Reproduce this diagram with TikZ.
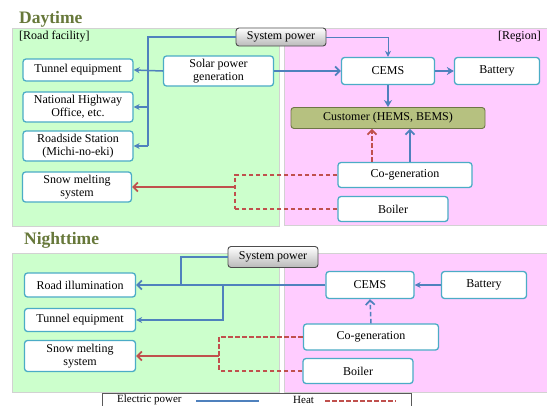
\documentclass[tikz,border=0pt]{standalone}
\usepackage{fontspec}
\setmainfont{Liberation Serif}
\usetikzlibrary{arrows.meta,shadows}
\definecolor{pgreen}{RGB}{204,255,204}
\definecolor{ppink}{RGB}{255,204,255}
\definecolor{bord}{RGB}{75,172,198}
\definecolor{eblue}{RGB}{79,129,189}
\definecolor{hred}{RGB}{192,80,77}
\definecolor{olivet}{RGB}{103,120,58}
\definecolor{custf}{RGB}{182,193,128}
\definecolor{custd}{RGB}{110,118,70}
\tikzset{
  x=1pt,y=-1pt,
  panel/.style={draw=gray!35,line width=0.6pt},
  box/.style={draw=bord,line width=1.3pt,rounded corners=3pt,fill=white,align=center,
    font=\fontsize{12}{12.5}\selectfont,inner sep=1pt},
  spbox/.style={draw=gray!60!black,line width=0.9pt,rounded corners=3pt,top color=white,bottom color=gray!55,
    font=\fontsize{12}{12.5}\selectfont,inner sep=1pt,minimum width=90pt},
  custbox/.style={draw=custd,line width=0.9pt,rounded corners=3pt,fill=custf,
    font=\fontsize{12}{12.5}\selectfont,inner sep=1pt},
  epow/.style={draw=eblue,line width=1.5pt},
  epowthick/.style={draw=eblue,line width=2.2pt},
  epowthin/.style={draw=eblue,line width=0.9pt},
  heat/.style={draw=hred,line width=1.4pt,dash pattern=on 4.5pt off 2.5pt},
  heatsolid/.style={draw=hred,line width=1.7pt},
  tipS/.style={-{Stealth[length=6pt,width=6pt]}},
  tipB/.style={-{Straight Barb[length=4.5pt,width=9pt,line width=1.7pt]}},
  ttl/.style={font=\fontsize{17.5}{18}\selectfont\bfseries,text=olivet,inner sep=0pt,anchor=west},
  tag/.style={font=\fontsize{12}{12.5}\selectfont,inner sep=0pt},
  leg/.style={font=\fontsize{11}{11}\selectfont,inner sep=0pt}
}
\begin{document}
\begin{tikzpicture}
\useasboundingbox (0,0) rectangle (547,405);
% panels
\fill[white] (0,0) rectangle (547,405);
\draw[panel,fill=pgreen] (12,28) rectangle (279,226);
\draw[panel,fill=ppink] (284,28) rectangle (548,225);
\draw[panel,fill=pgreen] (12,253) rectangle (279,392);
\draw[panel,fill=ppink] (284,253) rectangle (548,392);
\node[ttl] (tday) at (19,19) {Daytime};
\node[ttl] (tnight) at (24,240) {Nighttime};
\node[tag,anchor=west] (trf) at (19,37) {[Road facility]};
\node[tag,anchor=east] (treg) at (541,37) {[Region]};

% ---------- Daytime nodes
\node[spbox,minimum height=18pt] (sp1) at (281,37) {System power};
\node[box,minimum width=110pt,minimum height=22pt] (tun1) at (78,70) {Tunnel equipment};
\node[box,minimum width=110pt,minimum height=30pt] (nho) at (78,107) {National Highway\\Office, etc.};
\node[box,minimum width=110pt,minimum height=30pt] (road) at (78,146) {Roadside Station\\(Michi-no-eki)};
\node[box,minimum width=109pt,minimum height=30pt] (snow1) at (77,187) {Snow melting\\system};
\node[box,minimum width=110pt,minimum height=30pt] (solar) at (218.5,71) {Solar power\\generation};
\node[box,minimum width=93pt,minimum height=27pt] (cems1) at (388,71) {CEMS};
\node[box,minimum width=85pt,minimum height=27pt] (bat1) at (497,71) {Battery};
\node[custbox,minimum width=194pt,minimum height=21pt] (cust) at (388,118) {Customer (HEMS, BEMS)};
\node[box,minimum width=134pt,minimum height=25pt] (cog1) at (405,175) {Co-generation};
\node[box,minimum width=110pt,minimum height=25pt] (boil1) at (393,209) {Boiler};

% ---------- Daytime connectors
\coordinate (dj) at (148,146);
\draw[epow] (sp1.west) -| (dj);
\draw[epow,tipS] (dj) -- (road.east);
\draw[epow,tipS] (nho.east -| dj) -- (nho.east);
\draw[epow,tipS] (solar.west) -- (tun1.east);
\draw[epowthin,tipS] (sp1.east) -| (cems1.north);
\draw[epowthick,tipB] (solar.east) -- (cems1.west);
\draw[epowthick,-{Stealth[length=7pt,width=8pt]}] (cems1.east) -- (bat1.west);
\draw[epowthick,-{Stealth[length=7pt,width=8pt]}] (cems1.south) -- (cust.north);
\draw[epowthick,tipB] (cog1.north -| 410,0) -- (cust.south -| 410,0);
\draw[heat,tipB] (cog1.north -| 372,0) -- (cust.south -| 372,0);
\coordinate (dh1) at (235,175);
\coordinate (dh2) at (235,209);
\coordinate (dh3) at (235,187);
\draw[heat] (cog1.west) -- (dh1) -- (dh2);
\draw[heat] (boil1.west) -- (dh2);
\draw[heatsolid,tipB] (dh3) -- (snow1.east);

% ---------- Nighttime nodes
\node[spbox,minimum height=21pt] (sp2) at (273,257) {System power};
\node[box,minimum width=111pt,minimum height=24pt] (ill) at (80,285) {Road illumination};
\node[box,minimum width=111pt,minimum height=23pt] (tun2) at (80,320) {Tunnel equipment};
\node[box,minimum width=111pt,minimum height=31pt] (snow2) at (80,356) {Snow melting\\system};
\node[box,minimum width=88pt,minimum height=27pt] (cems2) at (370,285) {CEMS};
\node[box,minimum width=85pt,minimum height=27pt] (bat2) at (484,285) {Battery};
\node[box,minimum width=135pt,minimum height=26pt] (cog2) at (371,337) {Co-generation};
\node[box,minimum width=110pt,minimum height=25pt] (boil2) at (358,371) {Boiler};

% ---------- Nighttime connectors
\draw[epowthick,tipB] (cems2.west) -- (ill.east);
\coordinate (nj1) at (181,285);
\coordinate (nj2) at (223,285);
\draw[epow] (sp2.west) -| (nj1);
\draw[epow,tipS] (nj2) |- (tun2.east);
\draw[epow,tipS] (bat2.west) -- (cems2.east);
\draw[epow,dash pattern=on 4.5pt off 2.5pt,tipB] (cog2.north) -- (cems2.south);
\coordinate (nh1) at (219,337);
\coordinate (nh2) at (219,371);
\coordinate (nh3) at (219,356);
\draw[heat] (cog2.west) -- (nh1) -- (nh2);
\draw[heat] (boil2.west) -- (nh2);
\draw[heatsolid,tipB] (nh3) -- (snow2.east);

% ---------- Legend
\draw[gray!70!black,line width=0.8pt,fill=white] (102,393) rectangle (411,420);
\node[leg,anchor=west] (lep) at (117,399.5) {Electric power};
\coordinate (lb1) at (196,401);
\coordinate (lb2) at (259,401);
\draw[epowthick] (lb1) -- (lb2);
\node[leg,anchor=west] (lht) at (293,399.5) {Heat};
\coordinate (lr1) at (325,401);
\coordinate (lr2) at (396,401);
\draw[heat] (lr1) -- (lr2);
\end{tikzpicture}
\end{document}
